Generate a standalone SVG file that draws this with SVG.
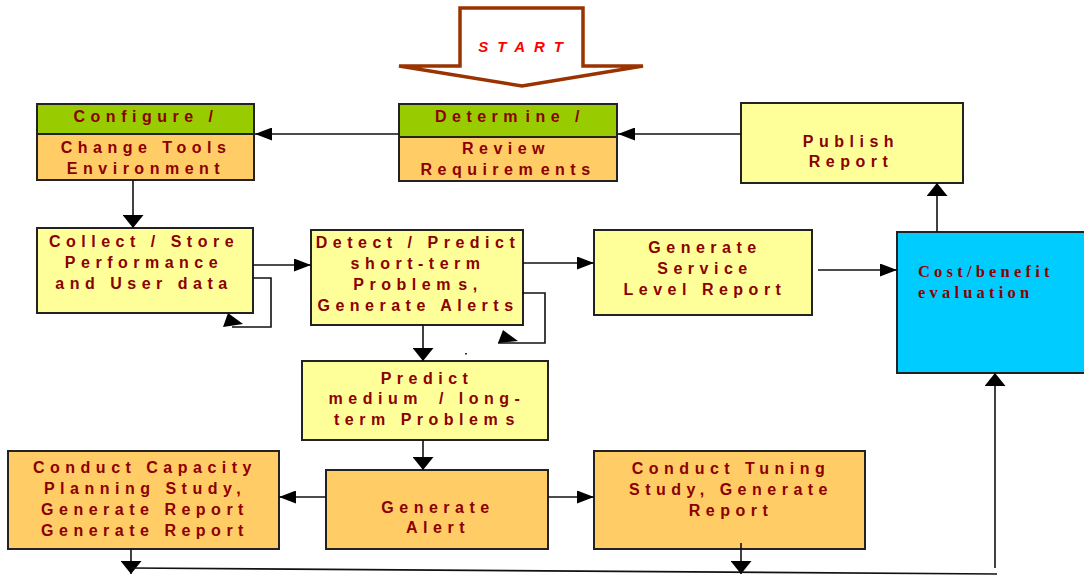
<svg xmlns="http://www.w3.org/2000/svg" width="1084" height="576" viewBox="0 0 1084 576">
<style>
.box{stroke:#222;stroke-width:2}
.g{fill:#99CC00}.o{fill:#FFCC66}.y{fill:#FFFF99}.c{fill:#00CCFF}
.t{font-family:"Liberation Sans",Arial,sans-serif;font-weight:bold;font-size:16px;letter-spacing:5.5px;fill:#8B0000;text-anchor:middle}
.ts{font-family:"Liberation Serif","Times New Roman",serif;font-weight:bold;font-size:16.5px;letter-spacing:4.2px;fill:#8B0000}
.sp{letter-spacing:-2px}
.ln{stroke:#111;stroke-width:1.6;fill:none}
</style>
<defs>
<marker id="ah" markerUnits="userSpaceOnUse" viewBox="0 0 17 13" markerWidth="17" markerHeight="13" refX="17" refY="6.5" orient="auto"><path d="M0,0L17,6.5L0,13z" fill="#000"/></marker>
<marker id="av" markerUnits="userSpaceOnUse" viewBox="0 0 13 21" markerWidth="13" markerHeight="21" refX="13" refY="10.5" orient="auto"><path d="M0,0L13,10.5L0,21z" fill="#000"/></marker>
</defs>

<g id="start">
<polygon points="460,8 583,8 583,66 643,66 522,86 399,66 460,66" fill="#fff" stroke="#993300" stroke-width="3.5" stroke-linejoin="miter"/>
<text x="525" y="52" style="font-family:'Liberation Sans',Arial,sans-serif;font-weight:bold;font-style:italic;font-size:15px;letter-spacing:9px;fill:#FF0000;text-anchor:middle">START</text>
</g>

<g id="configure">
<rect class="box g" x="37" y="104" width="217" height="30"/>
<rect class="box o" x="37" y="134" width="217" height="46"/>
<text class="t" x="146" y="122">Configure /</text>
<text class="t" x="146" y="153">Change Tools</text>
<text class="t" x="146" y="174">Environment</text>
</g>

<g id="determine">
<rect class="box g" x="399" y="104" width="218" height="33"/>
<rect class="box o" x="399" y="137" width="218" height="44"/>
<text class="t" x="510" y="122">Determ<tspan class="sp"> </tspan>ine /</text>
<text class="t" x="506" y="154">Review</text>
<text class="t" x="508" y="175">Requirem<tspan class="sp"> </tspan>ents</text>
</g>

<g id="publish">
<rect class="box y" x="741" y="103" width="222" height="80"/>
<text class="t" x="851" y="147">Publish</text>
<text class="t" x="851" y="167">Report</text>
</g>

<g id="collect">
<rect class="box y" x="37" y="228" width="216" height="85"/>
<text class="t" x="144" y="247">Collect / Store</text>
<text class="t" x="144" y="268">Performance</text>
<text class="t" x="144" y="289">and User data</text>
</g>

<g id="detect">
<rect class="box y" x="311" y="230" width="212" height="95"/>
<text class="t" x="418" y="248">Detect / Predict</text>
<text class="t" x="418" y="269">short-term</text>
<text class="t" x="418" y="290">Problem<tspan class="sp"> </tspan>s,</text>
<text class="t" x="418" y="311">Generate Alerts</text>
</g>

<g id="service">
<rect class="box y" x="594" y="230" width="218" height="85"/>
<text class="t" x="705" y="253">Generate</text>
<text class="t" x="705" y="274">Service</text>
<text class="t" x="705" y="295">Level Report</text>
</g>

<g id="cost">
<rect class="box c" x="897" y="232" width="200" height="141"/>
<text class="ts" x="918" y="277">Cost/benefit</text>
<text class="ts" x="918" y="298">evaluation</text>
</g>

<g id="predict">
<rect class="box y" x="302" y="361" width="246" height="79"/>
<text class="t" x="427" y="384">Predict</text>
<text class="t" x="427" y="404">medium<tspan dx="6"> / long-</tspan></text>
<text class="t" x="427" y="425">term Problem<tspan class="sp"> </tspan>s</text>
</g>

<g id="capacity">
<rect class="box o" x="8" y="451" width="271" height="98"/>
<text class="t" x="145" y="473">Conduct Capacity</text>
<text class="t" x="145" y="494">Planning Study,</text>
<text class="t" x="145" y="515">Generate Report</text>
<text class="t" x="145" y="536">Generate Report</text>
</g>

<g id="alert">
<rect class="box o" x="326" y="470" width="222" height="79"/>
<text class="t" x="438" y="513">Generate</text>
<text class="t" x="438" y="533">Alert</text>
</g>

<g id="tuning">
<rect class="box o" x="594" y="451" width="271" height="98"/>
<text class="t" x="731" y="474">Conduct Tuning</text>
<text class="t" x="731" y="495">Study, Generate</text>
<text class="t" x="731" y="516">Report</text>
</g>

<g id="connectors">
<line class="ln" x1="399" y1="134" x2="255" y2="134" marker-end="url(#ah)"/>
<line class="ln" x1="741" y1="134" x2="618" y2="134" marker-end="url(#ah)"/>
<line class="ln" x1="133" y1="180" x2="133" y2="228" marker-end="url(#av)"/>
<line class="ln" x1="253" y1="265" x2="311" y2="265" marker-end="url(#ah)"/>
<polyline class="ln" points="253,278 271,278 271,327 232,327"/>
<polygon points="228,313 223,327 243,324" fill="#000"/>
<line class="ln" x1="523" y1="263" x2="594" y2="263" marker-end="url(#ah)"/>
<polyline class="ln" points="522,293 545,293 545,343 498,343"/>
<polygon points="503,330 498,343 518,341" fill="#000"/>
<line class="ln" x1="423" y1="325" x2="423" y2="361" marker-end="url(#av)"/>
<rect x="465" y="353" width="2" height="1.5" fill="#333"/>
<line class="ln" x1="818" y1="270" x2="897" y2="270" marker-end="url(#ah)"/>
<line class="ln" x1="937" y1="232" x2="937" y2="183" marker-end="url(#av)"/>
<line class="ln" x1="423" y1="440" x2="423" y2="470" marker-end="url(#av)"/>
<line class="ln" x1="326" y1="497" x2="279" y2="497" marker-end="url(#ah)"/>
<line class="ln" x1="548" y1="497" x2="594" y2="497" marker-end="url(#ah)"/>
<line class="ln" x1="131" y1="549" x2="131" y2="574" marker-end="url(#av)"/>
<line class="ln" x1="741" y1="543" x2="741" y2="574" marker-end="url(#av)"/>
<line class="ln" x1="131" y1="568" x2="997" y2="574"/>
<line class="ln" x1="995" y1="568" x2="995" y2="373" marker-end="url(#av)"/>
</g>
</svg>
